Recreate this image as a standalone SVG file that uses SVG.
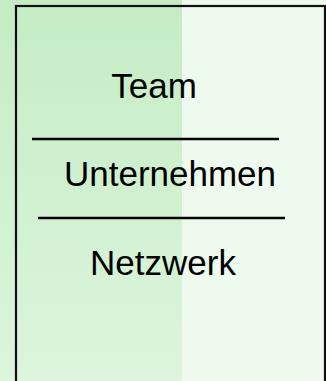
<svg xmlns="http://www.w3.org/2000/svg" width="326" height="381" viewBox="0 0 326 381">
<defs>
<linearGradient id="lg" x1="0" y1="0" x2="0" y2="1">
<stop offset="0" stop-color="#c5ecc5"/>
<stop offset="1" stop-color="#dcf5dc"/>
</linearGradient>
<style>
.t{font-family:"Liberation Sans",Arial,sans-serif;font-size:35px;fill:#000;text-anchor:middle}
.sep{stroke:#000;stroke-width:2.5}
</style>
</defs>
<rect x="0" y="0" width="182" height="381" fill="url(#lg)"/>
<rect x="182" y="0" width="144" height="381" fill="#eefaee"/>
<rect id="frame" x="16" y="6" width="309" height="400" fill="none" stroke="#111" stroke-width="2.2"/>
<g id="team"><text class="t" x="154" y="98">Team</text></g>
<g id="connectors">
<line class="sep" x1="32" y1="139" x2="279" y2="139"/>
<line class="sep" x1="38" y1="218" x2="285" y2="218"/>
</g>
<g id="unternehmen"><text class="t" x="170" y="186">Unternehmen</text></g>
<g id="netzwerk"><text class="t" x="163" y="275">Netzwerk</text></g>
</svg>
